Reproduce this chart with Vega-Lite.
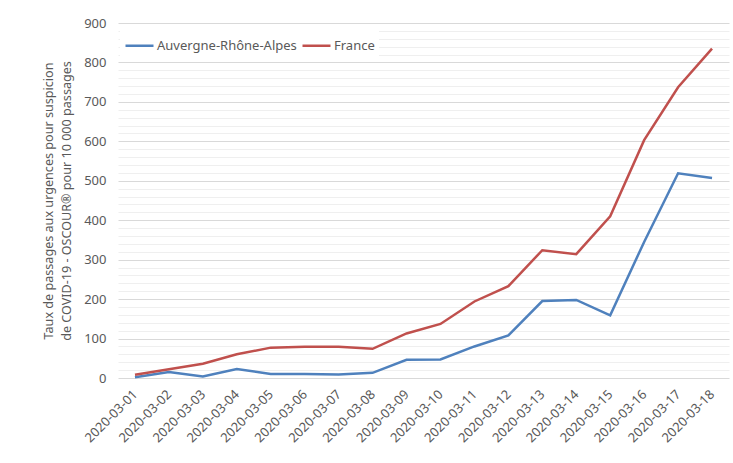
{
  "$schema": "https://vega.github.io/schema/vega-lite/v6.json",
  "width": 611,
  "height": 355,
  "autosize": "none",
  "padding": {"left": 118, "top": 23, "right": 4, "bottom": 85},
  "background": "white",
  "config": {
    "font": "Noto Sans",
    "view": {"stroke": null}
  },
  "data": {
    "values": [
      {"date": "2020-03-01", "region": "Auvergne-Rhône-Alpes", "taux": 2},
      {"date": "2020-03-02", "region": "Auvergne-Rhône-Alpes", "taux": 15},
      {"date": "2020-03-03", "region": "Auvergne-Rhône-Alpes", "taux": 4},
      {"date": "2020-03-04", "region": "Auvergne-Rhône-Alpes", "taux": 23},
      {"date": "2020-03-05", "region": "Auvergne-Rhône-Alpes", "taux": 10},
      {"date": "2020-03-06", "region": "Auvergne-Rhône-Alpes", "taux": 10},
      {"date": "2020-03-07", "region": "Auvergne-Rhône-Alpes", "taux": 9},
      {"date": "2020-03-08", "region": "Auvergne-Rhône-Alpes", "taux": 13},
      {"date": "2020-03-09", "region": "Auvergne-Rhône-Alpes", "taux": 46},
      {"date": "2020-03-10", "region": "Auvergne-Rhône-Alpes", "taux": 47},
      {"date": "2020-03-11", "region": "Auvergne-Rhône-Alpes", "taux": 80},
      {"date": "2020-03-12", "region": "Auvergne-Rhône-Alpes", "taux": 108},
      {"date": "2020-03-13", "region": "Auvergne-Rhône-Alpes", "taux": 195},
      {"date": "2020-03-14", "region": "Auvergne-Rhône-Alpes", "taux": 198},
      {"date": "2020-03-15", "region": "Auvergne-Rhône-Alpes", "taux": 159},
      {"date": "2020-03-16", "region": "Auvergne-Rhône-Alpes", "taux": 345},
      {"date": "2020-03-17", "region": "Auvergne-Rhône-Alpes", "taux": 519},
      {"date": "2020-03-18", "region": "Auvergne-Rhône-Alpes", "taux": 507},
      {"date": "2020-03-01", "region": "France", "taux": 8},
      {"date": "2020-03-02", "region": "France", "taux": 22},
      {"date": "2020-03-03", "region": "France", "taux": 36},
      {"date": "2020-03-04", "region": "France", "taux": 60},
      {"date": "2020-03-05", "region": "France", "taux": 77},
      {"date": "2020-03-06", "region": "France", "taux": 79},
      {"date": "2020-03-07", "region": "France", "taux": 79},
      {"date": "2020-03-08", "region": "France", "taux": 74},
      {"date": "2020-03-09", "region": "France", "taux": 113},
      {"date": "2020-03-10", "region": "France", "taux": 137},
      {"date": "2020-03-11", "region": "France", "taux": 194},
      {"date": "2020-03-12", "region": "France", "taux": 233},
      {"date": "2020-03-13", "region": "France", "taux": 324},
      {"date": "2020-03-14", "region": "France", "taux": 314},
      {"date": "2020-03-15", "region": "France", "taux": 410},
      {"date": "2020-03-16", "region": "France", "taux": 603},
      {"date": "2020-03-17", "region": "France", "taux": 737},
      {"date": "2020-03-18", "region": "France", "taux": 835}
    ]
  },
  "mark": {"type": "line", "strokeWidth": 2.5},
  "encoding": {
    "x": {
      "field": "date",
      "type": "ordinal",
      "scale": {"type": "point", "padding": 0.5},
      "axis": {
        "title": null,
        "labelAngle": -45,
        "labelAlign": "right",
        "labelBaseline": "middle",
        "labelFontSize": 13,
        "labelColor": "#595959",
        "labelPadding": 14,
        "domain": false,
        "ticks": false
      }
    },
    "y": {
      "field": "taux",
      "type": "quantitative",
      "scale": {"domain": [0, 900], "nice": false},
      "axis": {
        "title": ["Taux de passages aux urgences pour suspicion", "de COVID-19 - OSCOUR® pour 10 000 passages"],
        "titleFontSize": 12.6,
        "titleFontWeight": "normal",
        "titleColor": "#595959",
        "titlePadding": 10,
        "titleLineHeight": 18,
        "values": [0,20,40,60,80,100,120,140,160,180,200,220,240,260,280,300,320,340,360,380,400,420,440,460,480,500,520,540,560,580,600,620,640,660,680,700,720,740,760,780,800,820,840,860,880,900],
        "labelExpr": "datum.value % 100 === 0 ? datum.label : ''",
        "labelFontSize": 13,
        "labelColor": "#595959",
        "labelPadding": 12,
        "domain": false,
        "ticks": false,
        "gridColor": {"condition": {"test": "datum.value % 100 === 0", "value": "#d9d9d9"}, "value": "#efefef"},
        "gridWidth": 1
      }
    },
    "color": {
      "field": "region",
      "type": "nominal",
      "scale": {"domain": ["Auvergne-Rhône-Alpes", "France"], "range": ["#4F81BD", "#C0504D"]},
      "legend": {
        "title": null,
        "orient": "none",
        "legendX": 2,
        "legendY": 3,
        "direction": "horizontal",
        "symbolType": "stroke",
        "symbolStrokeWidth": 2.5,
        "symbolSize": 784,
        "labelFontSize": 13,
        "labelColor": "#595959",
        "labelOffset": 2,
        "columnPadding": 0,
        "fillColor": "white",
        "padding": 4
      }
    }
  }
}
